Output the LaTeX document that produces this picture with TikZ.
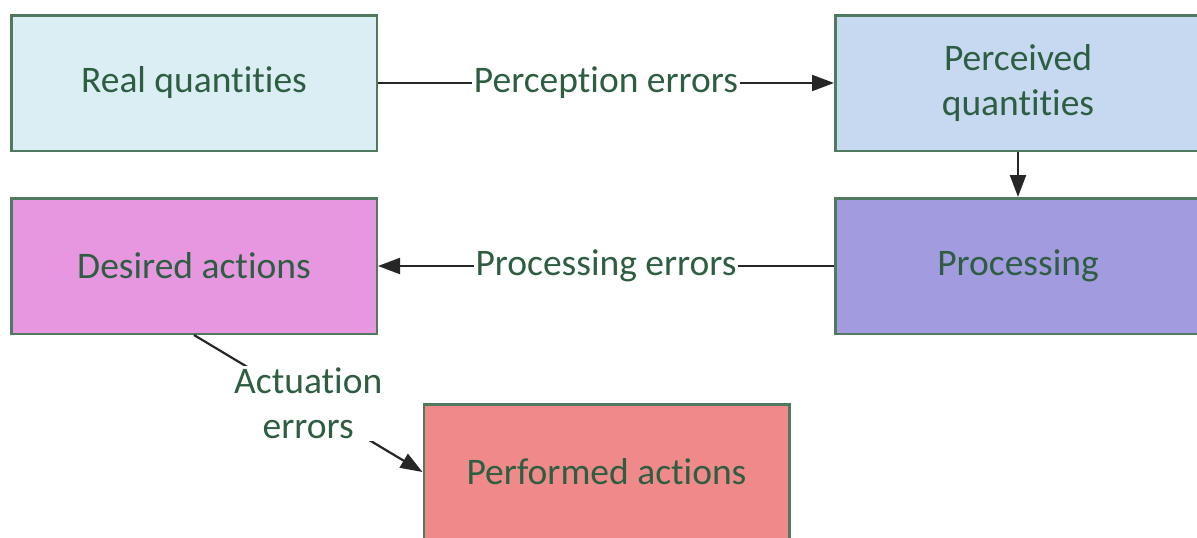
\documentclass[tikz,border=0pt]{standalone}
\usepackage{fontspec}
\setmainfont[Ligatures=NoCommon,RawFeature={-liga;-dlig;-clig}]{Carlito}
\usetikzlibrary{arrows.meta}
\definecolor{txt}{HTML}{2E5E42}
\definecolor{bord}{HTML}{4F7A5F}
\definecolor{cReal}{HTML}{DAEEF3}
\definecolor{cPerc}{HTML}{C6D9F0}
\definecolor{cProc}{HTML}{A29BDF}
\definecolor{cDes}{HTML}{E697E0}
\definecolor{cPerf}{HTML}{F08A8A}
\tikzset{
  box/.style={draw=bord, line width=2.5pt, minimum width=365.5pt, minimum height=135.5pt,
    inner sep=0pt, align=center, text=txt, font=\fontsize{37.5}{45}\selectfont},
  conn/.style={draw=black!85, line width=2.2pt, -{Triangle[length=22pt,width=16pt]}},
  lbl/.style={fill=white, inner sep=2pt, text=txt, align=center, font=\fontsize{37.5}{45}\selectfont}
}
\begin{document}
\begin{tikzpicture}[x=1pt,y=-1pt]
\useasboundingbox (0,0) rectangle (1197,538);
\begin{scope}
\clip (0,0) rectangle (1197,538);
\node[box, fill=cReal] (real) at (194,83) {Real quantities};
\node[box, fill=cPerc] (perc) at (1018,83) {Perceived\\quantities};
\node[box, fill=cProc] (proc) at (1018,266) {Processing};
\node[box, fill=cDes] (des) at (194,266) {Desired actions};
\node[box, fill=cPerf] (perf) at (606.5,472) {Performed actions};
\end{scope}
\draw[conn] (real.east) -- node[lbl] {Perception errors} (perc.west);
\draw[conn] (perc.south) -- (proc.north);
\draw[conn] (proc.west) -- node[lbl] {Processing errors} (des.east);
\draw[conn] (des.south) -- node[lbl] {Actuation\\errors} (perf.west);
\end{tikzpicture}
\end{document}
